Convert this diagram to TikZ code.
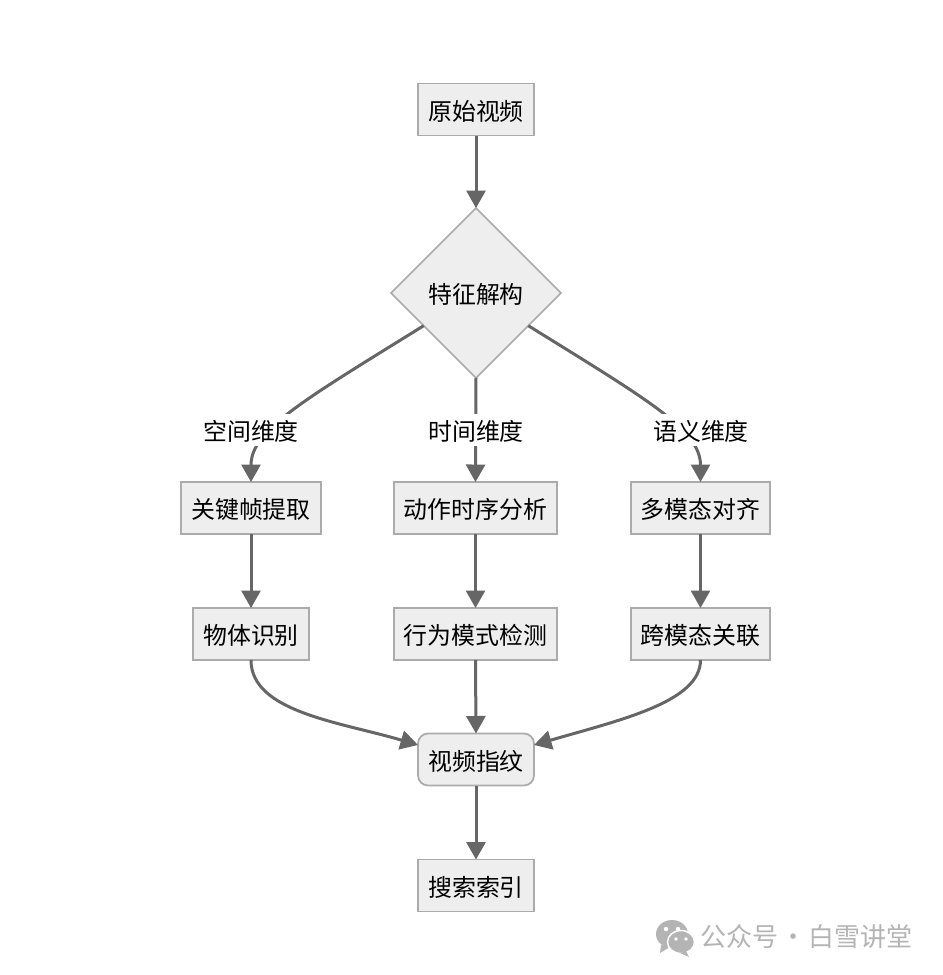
\documentclass[tikz,border=0pt]{standalone}
\usepackage{fontspec}
\setmainfont{Noto Sans CJK SC}
\usetikzlibrary{arrows.meta,shapes.geometric}
\definecolor{boxfill}{HTML}{EEEEEE}
\definecolor{boxline}{HTML}{ABABAB}
\definecolor{flowline}{HTML}{666666}
\definecolor{markgray}{HTML}{B4B4B4}
\tikzset{
    boxtext/.style={text height=12pt,text depth=0pt,font=\fontsize{13.6pt}{16pt}\selectfont},
    procbox/.style={boxtext,draw=boxline,fill=boxfill,line width=.035cm,inner sep=0,outer sep=0,minimum height=1.04cm},
    roundbox/.style={procbox,rounded corners=.2cm},
    decbox/.style={boxtext,draw=boxline,fill=boxfill,line width=.03cm,diamond,aspect=1,inner sep=0,outer sep=0,minimum size=3.4cm},
    dimlabel/.style={boxtext,fill=white,inner sep=0,minimum width=1.96cm,minimum height=.64cm},
    flow/.style={draw=flowline,line width=.06cm,-{Triangle[length=.35cm,width=.38cm]}}
}
\begin{document}
\begin{tikzpicture}[x=.02cm,y=-.02cm]
    \useasboundingbox (0,0) rectangle (943,975);

    % top part
    \node[procbox,minimum width=2.32cm] (source) at (476,109.5) {原始视频};
    \node[decbox] (split) at (476,293) {特征解构};

    % three columns
    \node[procbox,minimum width=2.8cm] (keyframe) at (251,508) {关键帧提取};
    \node[procbox,minimum width=3.26cm] (timing) at (475.5,508) {动作时序分析};
    \node[procbox,minimum width=2.78cm] (align) at (700.5,508) {多模态对齐};
    \node[procbox,minimum width=2.32cm] (object) at (251,634) {物体识别};
    \node[procbox,minimum width=3.26cm] (pattern) at (475.5,634) {行为模式检测};
    \node[procbox,minimum width=2.78cm] (link) at (700.5,634) {跨模态关联};

    % bottom part
    \node[roundbox,minimum width=2.32cm] (print) at (476,759.5) {视频指纹};
    \node[procbox,minimum width=2.32cm] (index) at (476,885.5) {搜索索引};

    \draw[flow] (source) -- (split);
    \draw[flow] (split.212) .. controls (304,400) and (251,430) .. (keyframe.north);
    \draw[flow] (split.south) -- (timing.north);
    \draw[flow] (split.328) .. controls (648,400) and (700.5,430) .. (align.north);

    \node[dimlabel] (spacelbl) at (251,429.5) {空间维度};
    \node[dimlabel] (timelbl) at (476,429.5) {时间维度};
    \node[dimlabel] (meanlbl) at (701,429.5) {语义维度};

    \draw[flow] (keyframe) -- (object);
    \draw[flow] (timing) -- (pattern);
    \draw[flow] (align) -- (link);

    \draw[flow] (object.south) .. controls (251,712) and (340,722) .. (print.west |- 0,745);
    \draw[flow] (pattern.south) -- (print.north);
    \draw[flow] (link.south) .. controls (700.5,702) and (620,720) .. (print.east |- 0,745);
    \draw[flow] (print) -- (index);

    % mark in the corner
    \fill[markgray] (672,934) ellipse (16 and 14);
    \fill[markgray] (661,945) -- (660,953) -- (670,947) -- cycle;
    \fill[white] (666,929) circle (2.2) (678,929) circle (2.2);
    \fill[markgray,draw=white,line width=.03cm] (681,942) ellipse (13.5 and 11.5);
    \fill[markgray] (686,951) -- (689,957) -- (680,953) -- cycle;
    \fill[white] (676,939) circle (1.8) (686,939) circle (1.8);
    \node[text=markgray,inner sep=0,anchor=west,font=\fontsize{14.8pt}{18pt}\selectfont] (mark) at (700,937) {公众号\hspace{1pt}·\hspace{1.5pt}白雪讲堂};
\end{tikzpicture}
\end{document}
